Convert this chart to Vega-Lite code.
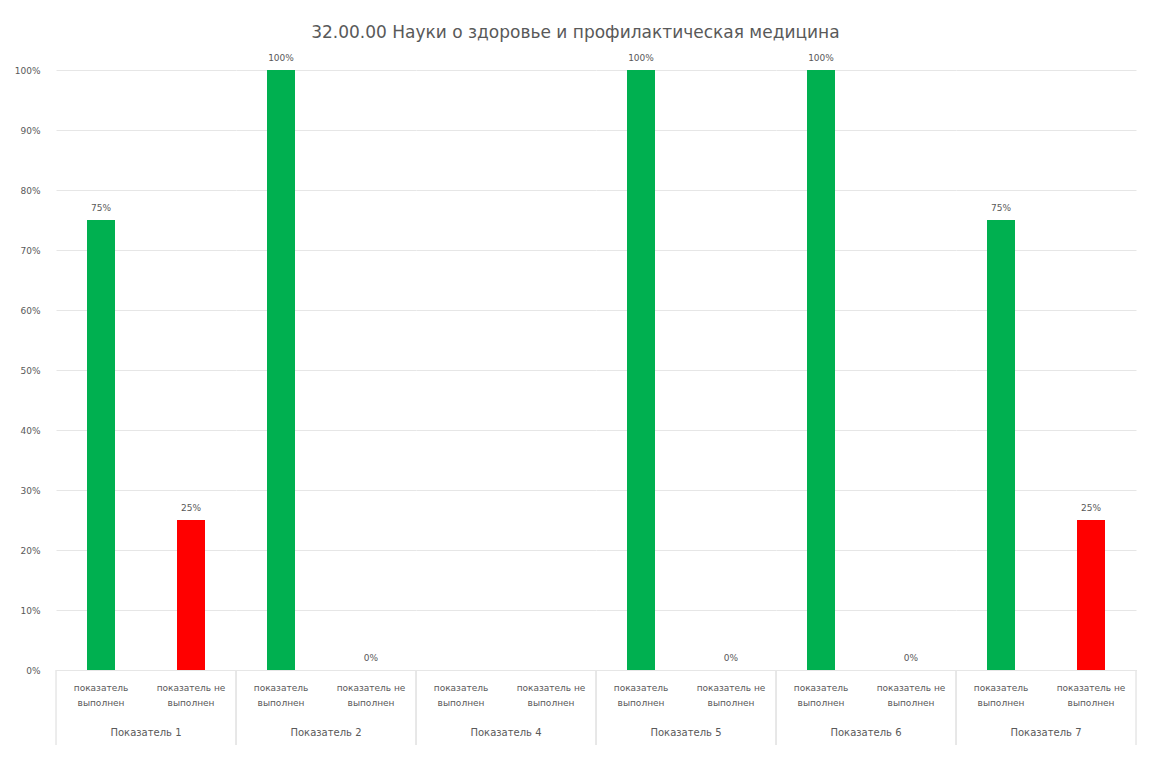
{
  "$schema": "https://vega.github.io/schema/vega-lite/v6.json",
  "background": "white",
  "padding": {"left": 14, "right": 20, "top": 24, "bottom": 10},
  "title": {
    "text": "32.00.00 Науки о здоровье и профилактическая медицина",
    "fontSize": 17,
    "fontWeight": "normal",
    "font": "DejaVu Sans",
    "color": "#595959",
    "anchor": "middle",
    "offset": 12
  },
  "config": {
    "font": "DejaVu Sans",
    "view": {"stroke": null},
    "axis": {"labelFont": "DejaVu Sans", "labelColor": "#595959", "labelFontSize": 9, "ticks": false}
  },
  "data": {
    "values": [
      {"group": "Показатель 1", "sub": "показатель выполнен", "value": 0.75},
      {"group": "Показатель 1", "sub": "показатель не выполнен", "value": 0.25},
      {"group": "Показатель 2", "sub": "показатель выполнен", "value": 1.0},
      {"group": "Показатель 2", "sub": "показатель не выполнен", "value": 0},
      {"group": "Показатель 4", "sub": "показатель выполнен", "value": null},
      {"group": "Показатель 4", "sub": "показатель не выполнен", "value": null},
      {"group": "Показатель 5", "sub": "показатель выполнен", "value": 1.0},
      {"group": "Показатель 5", "sub": "показатель не выполнен", "value": 0},
      {"group": "Показатель 6", "sub": "показатель выполнен", "value": 1.0},
      {"group": "Показатель 6", "sub": "показатель не выполнен", "value": 0},
      {"group": "Показатель 7", "sub": "показатель выполнен", "value": 0.75},
      {"group": "Показатель 7", "sub": "показатель не выполнен", "value": 0.25}
    ]
  },
  "facet": {
    "column": {
      "field": "group",
      "type": "nominal",
      "sort": null,
      "title": null,
      "header": {
        "labelOrient": "bottom",
        "labelFont": "DejaVu Sans",
        "labelFontSize": 10,
        "labelColor": "#595959",
        "labelPadding": 21
      }
    }
  },
  "spacing": 0,
  "bounds": "flush",
  "spec": {
    "width": 180,
    "height": 600,
    "encoding": {
      "x": {
        "field": "sub",
        "type": "nominal",
        "sort": ["показатель выполнен", "показатель не выполнен"],
        "title": null,
        "scale": {"paddingInner": 0, "paddingOuter": 0},
        "axis": {
          "labelAngle": 0,
          "labelFontSize": 9,
          "labelLineHeight": 15,
          "labelPadding": 13,
          "domainColor": "#d9d9d9",
          "labelExpr": "[substring(datum.value, 0, lastindexof(datum.value, ' ')), substring(datum.value, lastindexof(datum.value, ' ') + 1)]"
        }
      }
    },
    "layer": [
      {
        "mark": {"type": "bar", "size": 28},
        "encoding": {
          "y": {
            "field": "value",
            "type": "quantitative",
            "title": null,
            "scale": {"domain": [0, 1]},
            "axis": {
              "format": ".0%",
              "values": [0, 0.1, 0.2, 0.3, 0.4, 0.5, 0.6, 0.7, 0.8, 0.9, 1.0],
              "domain": false,
              "gridColor": "#e6e6e6",
              "labelPadding": 16,
              "labelOverlap": false
            }
          },
          "color": {
            "field": "sub",
            "type": "nominal",
            "scale": {"domain": ["показатель выполнен", "показатель не выполнен"], "range": ["#00b050", "#ff0000"]},
            "legend": null
          }
        }
      },
      {
        "mark": {"type": "text", "dy": -12, "fontSize": 9, "color": "#595959", "font": "DejaVu Sans"},
        "encoding": {
          "y": {"field": "value", "type": "quantitative", "scale": {"domain": [0, 1]}},
          "text": {"field": "value", "type": "quantitative", "format": ".0%"}
        }
      },
      {
        "mark": {"type": "rule", "color": "#e6e6e6", "strokeWidth": 1},
        "encoding": {
          "x": {"datum": "показатель выполнен", "bandPosition": 0},
          "y": {"datum": 0, "type": "quantitative", "scale": {"domain": [0, 1]}},
          "y2": {"datum": -0.125}
        }
      },
      {
        "mark": {"type": "rule", "color": "#e6e6e6", "strokeWidth": 1},
        "encoding": {
          "x": {"datum": "показатель не выполнен", "bandPosition": 1},
          "y": {"datum": 0, "type": "quantitative", "scale": {"domain": [0, 1]}},
          "y2": {"datum": -0.125}
        }
      }
    ]
  }
}
